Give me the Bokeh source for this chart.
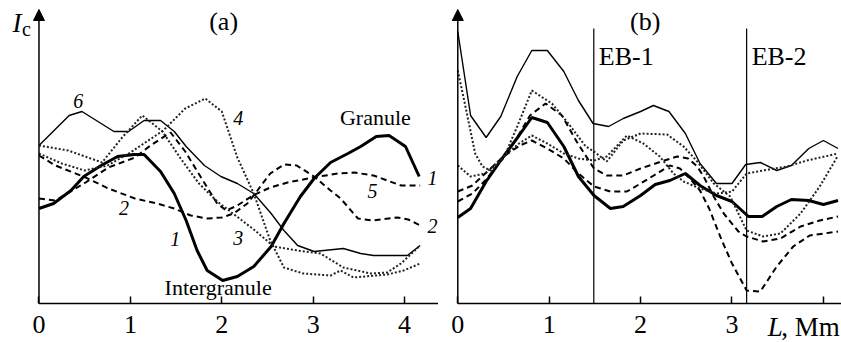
from bokeh.plotting import figure
from bokeh.layouts import row
from bokeh.models import Label, Arrow, NormalHead, FixedTicker
from bokeh.embed import file_html
from bokeh.resources import INLINE

# ---------------- data: panel (a) ----------------
a1_x = [0, 0.16, 0.35, 0.49, 0.68, 0.86, 1.04, 1.15, 1.33, 1.48, 1.61, 1.73, 1.84, 2.01, 2.17, 2.35, 2.54, 2.68, 2.86, 3.01, 3.19, 3.38, 3.52, 3.69, 3.83, 4.01, 4.16]
a1_y = [0.95, 1.00, 1.13, 1.27, 1.38, 1.47, 1.49, 1.49, 1.32, 1.10, 0.83, 0.53, 0.33, 0.23, 0.27, 0.37, 0.57, 0.80, 1.07, 1.25, 1.41, 1.50, 1.57, 1.67, 1.68, 1.57, 1.27]
a2_x = [0, 0.18, 0.51, 0.76, 1.05, 1.29, 1.48, 1.66, 1.84, 2.00, 2.13, 2.28, 2.39, 2.53, 2.68, 2.82, 3.01, 3.19, 3.30, 3.49, 3.65, 3.92, 4.04, 4.17]
a2_y = [1.48, 1.38, 1.26, 1.15, 1.05, 1.00, 0.95, 0.88, 0.85, 0.86, 0.90, 1.00, 1.13, 1.30, 1.39, 1.38, 1.27, 1.13, 1.05, 0.85, 0.83, 0.86, 0.84, 0.78]
a3_x = [0, 0.32, 0.69, 0.91, 1.13, 1.35, 1.55, 1.75, 1.95, 2.15, 2.35, 2.57, 2.83, 3.08, 3.33, 3.63, 3.81, 3.96, 4.17]
a3_y = [1.58, 1.53, 1.41, 1.66, 1.88, 1.72, 1.45, 1.20, 1.02, 0.88, 0.74, 0.57, 0.53, 0.50, 0.36, 0.30, 0.31, 0.40, 0.58]
a4_x = [0, 0.25, 0.5, 0.75, 1.0, 1.36, 1.6, 1.82, 2.0, 2.17, 2.35, 2.53, 2.68, 2.89, 3.19, 3.30, 3.44, 3.81, 3.99, 4.17]
a4_y = [1.50, 1.40, 1.33, 1.38, 1.51, 1.73, 1.95, 2.05, 1.92, 1.46, 1.10, 0.63, 0.36, 0.30, 0.28, 0.33, 0.26, 0.29, 0.33, 0.40]
a5_x = [0, 0.18, 0.51, 0.76, 1.05, 1.22, 1.44, 1.6, 1.8, 1.95, 2.05, 2.17, 2.34, 2.53, 2.72, 3.0, 3.27, 3.45, 3.66, 3.81, 3.96, 4.17]
a5_y = [1.05, 1.03, 1.21, 1.36, 1.46, 1.58, 1.71, 1.52, 1.22, 1.00, 0.93, 0.98, 1.08, 1.16, 1.21, 1.26, 1.30, 1.31, 1.28, 1.23, 1.18, 1.18]
a6_x = [0, 0.33, 0.47, 0.82, 0.98, 1.15, 1.33, 1.48, 1.61, 1.81, 1.99, 2.17, 2.35, 2.54, 2.68, 2.83, 3.01, 3.33, 3.52, 3.66, 4.03, 4.17]
a6_y = [1.58, 1.88, 1.92, 1.72, 1.72, 1.83, 1.83, 1.72, 1.57, 1.38, 1.27, 1.20, 1.10, 0.90, 0.73, 0.58, 0.52, 0.55, 0.50, 0.48, 0.48, 0.58]

# ---------------- data: panel (b) ----------------
bs_x = [0, 0.14, 0.31, 0.47, 0.65, 0.81, 0.98, 1.16, 1.32, 1.48, 1.65, 1.81, 2.0, 2.14, 2.31, 2.49, 2.65, 2.83, 3.0, 3.15, 3.31, 3.49, 3.65, 3.84, 4.0, 4.16]
bs_y = [2.72, 1.88, 1.66, 1.87, 2.27, 2.53, 2.53, 2.32, 2.03, 1.80, 1.77, 1.85, 1.92, 1.98, 1.92, 1.70, 1.40, 1.20, 1.20, 1.39, 1.41, 1.33, 1.38, 1.55, 1.63, 1.55]
bt_x = [0, 0.14, 0.31, 0.50, 0.67, 0.81, 0.98, 1.16, 1.32, 1.49, 1.67, 1.81, 2.0, 2.16, 2.32, 2.49, 2.65, 2.83, 3.0, 3.18, 3.33, 3.49, 3.65, 3.84, 4.0, 4.16]
bt_y = [0.86, 0.95, 1.22, 1.47, 1.68, 1.86, 1.81, 1.57, 1.27, 1.08, 0.95, 0.97, 1.08, 1.19, 1.23, 1.30, 1.18, 1.08, 1.02, 0.87, 0.87, 0.97, 1.04, 1.03, 0.99, 1.03]
bda_x = [0, 0.07, 0.19, 0.27, 0.36, 0.50, 0.65, 0.81, 1.03, 1.21, 1.40, 1.49, 1.63, 1.81, 2.0, 2.29, 2.47, 2.62, 2.80, 2.98, 3.16, 3.34, 3.53, 3.75, 3.96, 4.16]
bda_y = [2.33, 2.03, 1.50, 1.37, 1.33, 1.45, 1.77, 2.13, 2.00, 1.80, 1.57, 1.52, 1.42, 1.63, 1.70, 1.69, 1.57, 1.42, 1.20, 1.07, 0.73, 0.67, 0.70, 0.90, 1.17, 1.48]
bdb_x = [0, 0.14, 0.30, 0.50, 0.67, 0.81, 0.98, 1.16, 1.32, 1.49, 1.63, 1.85, 2.03, 2.21, 2.36, 2.47, 2.65, 2.83, 3.0, 3.16, 3.34, 3.60, 3.82, 4.16]
bdb_y = [1.38, 1.27, 1.30, 1.47, 1.60, 1.68, 1.60, 1.50, 1.45, 1.43, 1.47, 1.68, 1.60, 1.47, 1.30, 1.22, 1.15, 1.10, 1.12, 1.30, 1.33, 1.37, 1.43, 1.50]
bdu_x = [0, 0.16, 0.30, 0.45, 0.63, 0.79, 0.96, 1.14, 1.30, 1.49, 1.63, 1.81, 2.0, 2.26, 2.40, 2.52, 2.62, 2.69, 2.80, 2.91, 3.07, 3.16, 3.34, 3.53, 3.75, 3.96, 4.16]
bdu_y = [1.02, 1.10, 1.23, 1.40, 1.63, 1.88, 2.00, 1.88, 1.62, 1.35, 1.28, 1.28, 1.35, 1.43, 1.47, 1.45, 1.37, 1.27, 1.07, 0.90, 0.72, 0.67, 0.62, 0.65, 0.77, 0.83, 0.87]
bdl_x = [0, 0.16, 0.30, 0.50, 0.68, 0.81, 0.98, 1.16, 1.32, 1.49, 1.67, 1.85, 2.0, 2.18, 2.32, 2.43, 2.54, 2.65, 2.75, 2.88, 3.0, 3.16, 3.31, 3.49, 3.67, 3.85, 4.16]
bdl_y = [1.12, 1.18, 1.30, 1.47, 1.58, 1.63, 1.55, 1.45, 1.30, 1.17, 1.12, 1.12, 1.20, 1.30, 1.38, 1.35, 1.25, 1.13, 0.95, 0.65, 0.40, 0.13, 0.12, 0.37, 0.57, 0.68, 0.72]
eb_x = [1.488, 3.16]
eb_top = [2.75, 2.75]
eb_names = ["EB-1", "EB-2"]

ticks = [0, 1, 2, 3, 4]
SERIF = "Liberation Serif"
Y_TOP = 3.03
Y_BOTTOM = -0.39

def base(width, xstart, xend):
    p = figure(width=width, height=342, x_range=(xstart, xend), y_range=(Y_BOTTOM, Y_TOP),
               output_backend="svg", toolbar_location=None,
               min_border_left=0, min_border_right=0, min_border_top=0,
               min_border_bottom=0)
    p.outline_line_color = None
    p.grid.visible = False
    p.background_fill_color = "white"
    p.border_fill_color = "white"
    xa = p.xaxis[0]
    xa.fixed_location = 0
    xa.ticker = FixedTicker(ticks=ticks)
    xa.major_tick_in = 7
    xa.major_tick_out = 0
    xa.minor_tick_line_color = None
    xa.axis_line_color = None
    xa.major_tick_line_width = 1.5
    xa.major_tick_line_color = "black"
    xa.major_label_text_font = SERIF
    xa.major_label_text_font_size = "26px"
    xa.major_label_standoff = 12
    xa.major_label_text_color = "black"
    ya = p.yaxis[0]
    ya.visible = False
    # axis lines: x axis from 0 to the right end, y axis as an arrow
    p.segment(x0=[0], y0=[0], x1=[xend], y1=[0], line_color="black", line_width=1.5)
    p.add_layout(Arrow(end=NormalHead(size=11, fill_color="black", line_color="black", line_width=1),
                       x_start=0, y_start=0, x_end=0, y_end=2.94,
                       line_width=1.5, line_color="black"))
    return p

def lab(p, x, y, t, size, italic=False, align="center", baseline="middle"):
    p.add_layout(Label(x=x, y=y, text=t, text_font=SERIF, text_font_size=size,
                       text_font_style="italic" if italic else "normal",
                       text_align=align, text_baseline=baseline, text_color="black"))

# ---------------- panel (a) ----------------
pa = base(438, -0.421, 4.371)
pa.line(a6_x, a6_y, line_color="black", line_width=1.4)
pa.line(a1_x, a1_y, line_color="black", line_width=3)
pa.line(a2_x, a2_y, line_color="black", line_width=2, line_dash="6 4")
pa.line(a5_x, a5_y, line_color="black", line_width=2, line_dash="6 4")
pa.line(a3_x, a3_y, line_color="#222222", line_width=2, line_dash="2 2")
pa.line(a4_x, a4_y, line_color="#222222", line_width=2, line_dash="2 2")

lab(pa, -0.29, 2.805, "I", "27px", italic=True, align="left")
lab(pa, -0.185, 2.75, "c", "20px", align="left")
lab(pa, 2.02, 2.82, "(a)", "26px")
lab(pa, 0.43, 2.03, "6", "20px", italic=True)
lab(pa, 2.18, 1.86, "4", "20px", italic=True)
lab(pa, 3.68, 1.86, "Granule", "22px")
lab(pa, 4.25, 1.26, "1", "20px", italic=True, align="left")
lab(pa, 3.65, 1.13, "5", "20px", italic=True)
lab(pa, 4.25, 0.78, "2", "20px", italic=True, align="left")
lab(pa, 0.93, 0.96, "2", "20px", italic=True)
lab(pa, 1.49, 0.65, "1", "20px", italic=True)
lab(pa, 2.18, 0.66, "3", "20px", italic=True)
lab(pa, 1.96, 0.16, "Intergranule", "22px")

# ---------------- panel (b) ----------------
pb = base(403, -0.211, 4.198)
pb.xaxis[0].major_label_overrides = {4: ""}
pb.segment(x0=eb_x, y0=[0, 0], x1=eb_x, y1=eb_top, line_color="black", line_width=1.2)
pb.line(bs_x, bs_y, line_color="black", line_width=1.4)
pb.line(bt_x, bt_y, line_color="black", line_width=3)
pb.line(bdu_x, bdu_y, line_color="black", line_width=2, line_dash="6 4")
pb.line(bdl_x, bdl_y, line_color="black", line_width=2, line_dash="6 4")
pb.line(bda_x, bda_y, line_color="#222222", line_width=2, line_dash="2 2")
pb.line(bdb_x, bdb_y, line_color="#222222", line_width=2, line_dash="2 2")

lab(pb, 2.05, 2.82, "(b)", "26px")
for xx, nm in zip(eb_x, eb_names):
    lab(pb, xx + 0.055, 2.47, nm, "26px", align="left")
lab(pb, 3.555, -0.235, "L", "27px", italic=True, align="right")
lab(pb, 4.18, -0.235, ", Mm", "27px", align="right")

layout = row(pa, pb)
open("out.html", "w").write(file_html(layout, INLINE))
